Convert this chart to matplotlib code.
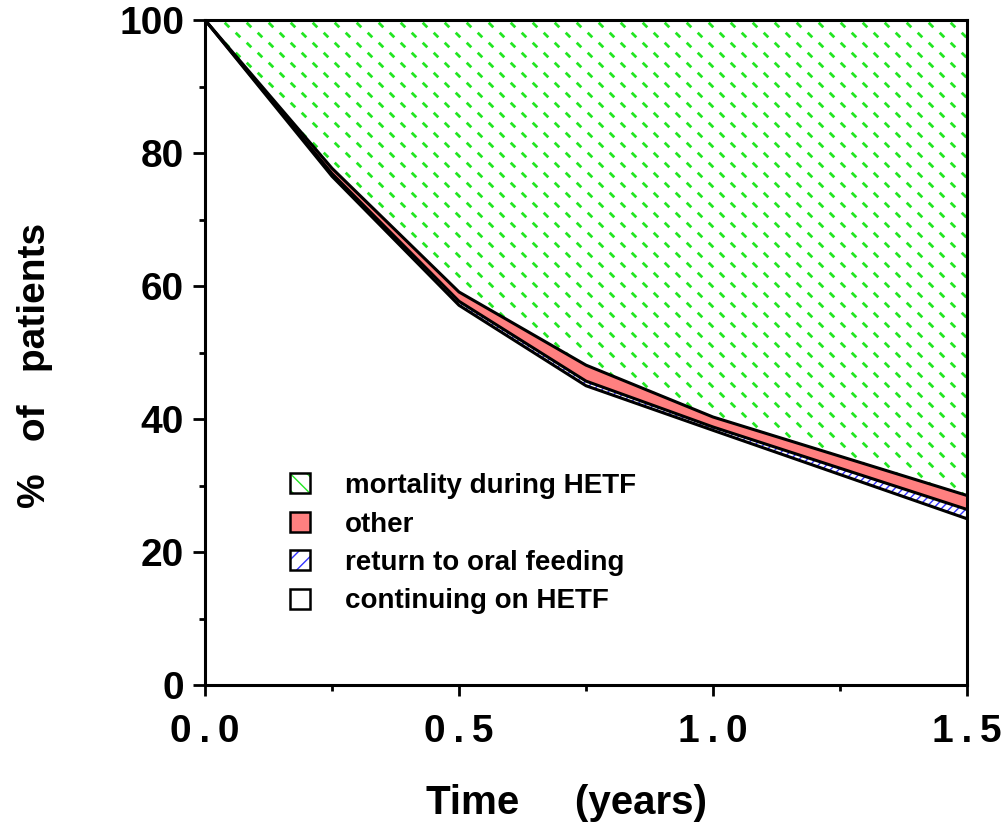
import numpy as np
import matplotlib
matplotlib.use("Agg")
import matplotlib.pyplot as plt
from matplotlib.patches import Patch, Polygon
from matplotlib.collections import LineCollection
from matplotlib.legend_handler import HandlerTuple

plt.rcParams['font.family'] = ['Liberation Sans', 'DejaVu Sans']
plt.rcParams['font.weight'] = 'bold'
plt.rcParams['hatch.linewidth'] = 1.0

# data (cumulative % of patients)
time = [0, 0.25, 0.5, 0.75, 1.0, 1.5]
continuing = [100, 76.5, 57.1, 45.0, 38.3, 25.0]
oral_top = [100, 76.9, 57.7, 45.7, 38.8, 26.4]
other_top = [100, 77.7, 59.1, 48.1, 40.3, 28.5]
labels = ["mortality during HETF", "other", "return to oral feeding", "continuing on HETF"]
xtick_labels = ['0\u2009.\u20090', '0\u2009.\u20095', '1\u2009.\u20090', '1\u2009.\u20095']

green = '#22e622'
salmon = '#ff8080'

fig = plt.figure(figsize=(10.06, 8.27), dpi=100)
ax = fig.add_axes([205/1006, 1 - 685/827, 762/1006, 665/827])
ax.set_xlim(0, 1.5)
ax.set_ylim(0, 100)

# mortality region: short green dashes clipped to the polygon
poly = Polygon(list(zip(time, other_top)) + [(1.5, 100), (0, 100)],
               closed=True, facecolor='white', edgecolor='none',
               transform=ax.transData)
ax.add_patch(poly)
segs = []
W, H = 762.0, 665.0
for j, yp in enumerate(np.arange(5, H, 10)):
    off = (11 * j) % 22
    for xp in np.arange(off - 22, W + 22, 22):
        segs.append([((xp - 2.3) / W, 1 - (yp - 2.3) / H),
                     ((xp + 2.3) / W, 1 - (yp + 2.3) / H)])
lc = LineCollection(segs, colors=green, linewidths=2.0, transform=ax.transAxes)
ax.add_collection(lc)
lc.set_clip_path(poly)

# other
ax.fill_between(time, oral_top, other_top, facecolor=salmon, edgecolor='none')
# return to oral feeding
ax.fill_between(time, continuing, oral_top, facecolor='white', edgecolor='#3333ff',
                hatch='////', linewidth=0)
# boundaries
for ys in (continuing, oral_top, other_top):
    ax.plot(time, ys, color='black', lw=2.2, solid_joinstyle='miter')

# axes styling
for s in ax.spines.values():
    s.set_linewidth(2.2)
ax.set_xticks([0, 0.5, 1.0, 1.5])
ax.set_xticklabels(xtick_labels)
ax.set_xticks([0.25, 0.75, 1.25], minor=True)
ax.set_yticks([0, 20, 40, 60, 80, 100])
ax.set_yticks([10, 30, 50, 70, 90], minor=True)
ax.tick_params(axis='x', which='major', direction='out', length=8, width=2, pad=13, labelsize=28)
ax.tick_params(axis='x', which='minor', direction='out', length=4.5, width=2)
ax.tick_params(axis='y', which='major', direction='out', length=9, width=2, pad=6, labelsize=28)
ax.tick_params(axis='y', which='minor', direction='out', length=4.5, width=2)

ax.set_xlabel("Time     (years)", fontsize=29, fontweight='bold', va='top')
ax.xaxis.set_label_coords((567 - 205) / 762, (685 - 784) / 665)
ax.set_ylabel("%   of   patients", fontsize=28, fontweight='bold', va='center')
ax.yaxis.set_label_coords((35 - 205) / 762, (685 - 365) / 665)

# legend
h_mort = (Patch(facecolor='white', edgecolor=green, hatch='\\\\', lw=0),
          Patch(facecolor='none', edgecolor='black', lw=1.8))
h_other = Patch(facecolor=salmon, edgecolor='black', lw=1.8)
h_oral = (Patch(facecolor='white', edgecolor='#3333ff', hatch='//', lw=0),
          Patch(facecolor='none', edgecolor='black', lw=1.8))
h_cont = Patch(facecolor='white', edgecolor='black', lw=1.8)
ax.legend([h_mort, h_other, h_oral, h_cont], labels,
          handler_map={tuple: HandlerTuple(ndivide=1)},
          loc='upper left', bbox_to_anchor=((290 - 205) / 762, (685 - 473) / 665),
          frameon=False, borderpad=0, borderaxespad=0,
          fontsize=20, handlelength=0.72, handleheight=0.72, handletextpad=1.25,
          labelspacing=0.45)

fig.savefig("out.png", dpi=100)
